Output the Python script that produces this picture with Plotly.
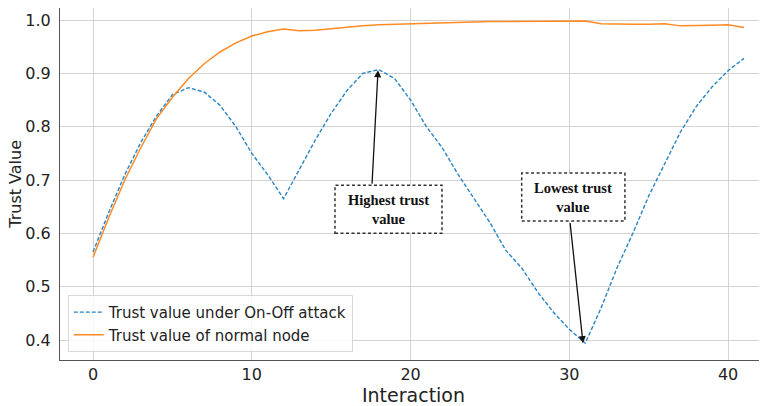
import plotly.graph_objects as go

interaction = list(range(42))
attack = [0.565, 0.64, 0.71, 0.77, 0.82, 0.86, 0.873, 0.865, 0.84, 0.80,
          0.75, 0.71, 0.665, 0.72, 0.775, 0.825, 0.868, 0.90, 0.907, 0.89,
          0.85, 0.80, 0.76, 0.71, 0.665, 0.62, 0.568, 0.535, 0.49, 0.452,
          0.42, 0.394, 0.46, 0.535, 0.60, 0.67, 0.73, 0.79, 0.838, 0.875,
          0.905, 0.928]
normal = [0.555, 0.63, 0.70, 0.76, 0.815, 0.855, 0.89, 0.918, 0.94, 0.957,
          0.97, 0.978, 0.983, 0.98, 0.981, 0.984, 0.987, 0.989, 0.991, 0.992,
          0.993, 0.994, 0.995, 0.996, 0.996, 0.997, 0.997, 0.997, 0.998, 0.998,
          0.998, 0.998, 0.993, 0.992, 0.992, 0.992, 0.993, 0.989, 0.989, 0.990,
          0.991, 0.986]
names = ["Trust value under On-Off attack", "Trust value of normal node"]
y_title = "Trust Value"

fig = go.Figure()
fig.add_trace(go.Scatter(x=interaction, y=attack, mode="lines", name=names[0],
                         line=dict(color="#2a84c4", width=1.4, dash="4px,2px")))
fig.add_trace(go.Scatter(x=interaction, y=normal, mode="lines", name=names[1],
                         line=dict(color="#ff8a24", width=1.5)))

# annotation boxes
boxes = [
    dict(x0=15.24, x1=21.98, y0=0.600, y1=0.690, tx=18.6, ty=0.645, text="Highest trust<br>value",
         head=(17.95, 0.906), tail=(17.57, 0.690)),
    dict(x0=27.0, x1=33.5, y0=0.623, y1=0.713, tx=30.25, ty=0.668, text="Lowest trust<br>value",
         head=(30.86, 0.394), tail=(30.04, 0.622)),
]
for b in boxes:
    fig.add_shape(type="rect", xref="x", yref="y", x0=b["x0"], x1=b["x1"], y0=b["y0"], y1=b["y1"],
                  line=dict(color="#333333", width=1.5, dash="3px,2.5px"), fillcolor="white", layer="above")
    fig.add_annotation(x=b["tx"], y=b["ty"], xref="x", yref="y", text="<b>" + b["text"] + "</b>",
                       showarrow=False, font=dict(family="Liberation Serif", size=14.5, color="#111111"))
    fig.add_annotation(x=b["head"][0], y=b["head"][1], ax=b["tail"][0], ay=b["tail"][1],
                       xref="x", yref="y", axref="x", ayref="y", text="", showarrow=True,
                       arrowhead=2, arrowsize=1.1, arrowwidth=1.3, arrowcolor="#111111")

# y-axis title placed as rotated text
fig.add_annotation(x=-0.064, y=0.5, xref="paper", yref="paper", text=y_title, textangle=-90,
                   showarrow=False, xanchor="center", yanchor="middle",
                   font=dict(family="DejaVu Sans", size=16, color="#222222"))

fig.update_layout(
    width=759, height=398,
    margin=dict(l=52, r=0, t=0, b=46),
    paper_bgcolor="white", plot_bgcolor="white",
    font=dict(family="DejaVu Sans", size=16, color="#222222"),
    showlegend=True,
    legend=dict(x=0.011, y=0.023, xanchor="left", yanchor="bottom",
                bgcolor="rgba(255,255,255,0.8)", bordercolor="#d8d8d8", borderwidth=1,
                font=dict(size=15, family="DejaVu Sans"), tracegroupgap=0),
)
fig.update_xaxes(range=[-2.08, 42.45], tickvals=[0, 10, 20, 30, 40], showgrid=True,
                 gridcolor="#d3d3d3", gridwidth=1, showline=True, linecolor="#555555",
                 mirror=True, ticks="", automargin=False,
                 title=dict(text="Interaction", standoff=0), zeroline=False)
fig.update_yaxes(range=[0.3625, 1.0225], tickvals=[0.4, 0.5, 0.6, 0.7, 0.8, 0.9, 1.0],
                 tickformat=".1f", showgrid=True, gridcolor="#d3d3d3", gridwidth=1,
                 showline=True, linecolor="#555555", mirror=True, ticks="", automargin=False,
                 ticklabelstandoff=5, zeroline=False)

fig.write_html("out.html")
